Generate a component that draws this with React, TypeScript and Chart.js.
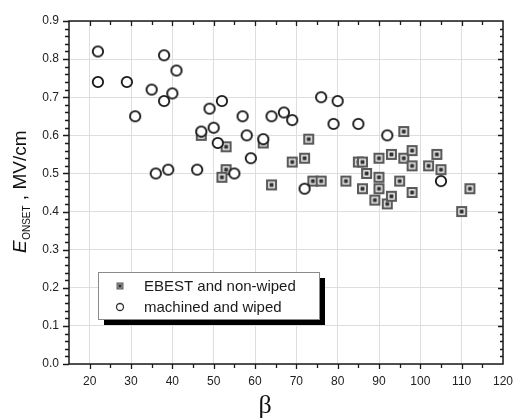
import React, { useEffect, useRef } from "react";
import { Chart, registerables } from "chart.js";

Chart.register(...registerables);

const ebestLabel = "EBEST and non-wiped";
const ebestX = [47, 53, 53, 52, 62, 64, 69, 72, 73, 74, 76, 82, 85, 86, 86, 87, 89, 90, 90, 90, 92, 93, 93, 95, 96, 96, 98, 98, 98, 102, 104, 105, 110, 112];
const ebestY = [0.60, 0.57, 0.51, 0.49, 0.58, 0.47, 0.53, 0.54, 0.59, 0.48, 0.48, 0.48, 0.53, 0.53, 0.46, 0.50, 0.43, 0.54, 0.49, 0.46, 0.42, 0.55, 0.44, 0.48, 0.54, 0.61, 0.56, 0.52, 0.45, 0.52, 0.55, 0.51, 0.40, 0.46];

const machLabel = "machined and wiped";
const machX = [22, 22, 29, 31, 35, 38, 38, 40, 41, 36, 39, 46, 47, 49, 50, 51, 52, 55, 57, 58, 59, 62, 64, 67, 69, 72, 76, 80, 79, 85, 92, 105];
const machY = [0.82, 0.74, 0.74, 0.65, 0.72, 0.81, 0.69, 0.71, 0.77, 0.50, 0.51, 0.51, 0.61, 0.67, 0.62, 0.58, 0.69, 0.50, 0.65, 0.60, 0.54, 0.59, 0.65, 0.66, 0.64, 0.46, 0.70, 0.69, 0.63, 0.63, 0.60, 0.48];

const xTicks = [20, 30, 40, 50, 60, 70, 80, 90, 100, 110, 120];
const yTicks = [0, 0.1, 0.2, 0.3, 0.4, 0.5, 0.6, 0.7, 0.8, 0.9];
const xMinorStep = 5;
const yMinorStep = 0.02;

function makeSquare(size: number, outer: number, inner: number, lw: number): HTMLCanvasElement {
  const c = document.createElement("canvas");
  c.width = size;
  c.height = size;
  const g = c.getContext("2d")!;
  const o = (size - outer) / 2;
  g.fillStyle = "#ffffff";
  g.fillRect(o, o, outer, outer);
  g.strokeStyle = "#5a5a5a";
  g.lineWidth = lw;
  g.strokeRect(o + lw / 2, o + lw / 2, outer - lw, outer - lw);
  const i = (size - inner) / 2;
  g.fillStyle = "#303030";
  g.fillRect(i, i, inner, inner);
  return c;
}

function makeCircle(size: number, r: number, lw: number, color: string): HTMLCanvasElement {
  const c = document.createElement("canvas");
  c.width = size;
  c.height = size;
  const g = c.getContext("2d")!;
  g.beginPath();
  g.arc(size / 2, size / 2, r, 0, Math.PI * 2);
  g.fillStyle = "#ffffff";
  g.fill();
  g.strokeStyle = color;
  g.lineWidth = lw;
  g.stroke();
  return c;
}

const framePlugin = {
  id: "framePlugin",
  afterDraw(chart: any) {
    const ctx = chart.ctx;
    const { left, right, top, bottom } = chart.chartArea;
    const xs = chart.scales.x;
    const ys = chart.scales.y;
    ctx.save();
    ctx.strokeStyle = "#1a1a1a";
    ctx.lineWidth = 1.5;
    ctx.strokeRect(left, top, right - left, bottom - top);
    ctx.lineWidth = 1.3;
    ctx.beginPath();
    for (let v = 20; v <= 115.001; v += xMinorStep) {
      const px = Math.round(xs.getPixelForValue(v)) + 0.5;
      const major = xTicks.includes(Math.round(v));
      const len = major ? 5 : 4;
      ctx.moveTo(px, bottom);
      ctx.lineTo(px, bottom + len);
      ctx.moveTo(px, top);
      ctx.lineTo(px, top + len);
    }
    for (let k = 0; k <= 45; k++) {
      const v = k * yMinorStep;
      const py = Math.round(ys.getPixelForValue(v)) + 0.5;
      const major = k % 5 === 0;
      const lenL = major ? 6 : 4;
      const lenR = major ? 5 : 3;
      ctx.moveTo(left - lenL, py);
      ctx.lineTo(left, py);
      if (k !== 0 && k !== 45) {
        ctx.moveTo(right, py);
        ctx.lineTo(right - lenR, py);
      }
    }
    ctx.stroke();

    ctx.fillStyle = "#111";
    ctx.font = "26px 'Liberation Serif', 'DejaVu Serif', serif";
    ctx.textAlign = "center";
    ctx.textBaseline = "alphabetic";
    ctx.fillText("β", 265, 413);

    ctx.save();
    ctx.translate(26, 192);
    ctx.rotate(-Math.PI / 2);
    ctx.textAlign = "left";
    const fMain = "19px 'Liberation Sans', Arial, sans-serif";
    const fItal = "italic 19px 'Liberation Sans', Arial, sans-serif";
    const fSub = "10px 'Liberation Sans', Arial, sans-serif";
    ctx.font = fItal;
    const wE = ctx.measureText("E").width;
    ctx.font = fSub;
    const wS = ctx.measureText("ONSET").width;
    ctx.font = fMain;
    const rest = " , MV/cm";
    const wR = ctx.measureText(rest).width;
    let x0 = -(wE + wS + wR) / 2;
    ctx.font = fItal;
    ctx.fillText("E", x0, 0);
    x0 += wE + 0.5;
    ctx.font = fSub;
    ctx.fillText("ONSET", x0, 4);
    x0 += wS;
    ctx.font = fMain;
    ctx.fillText(rest, x0, 0);
    ctx.restore();

    const bx = 98, by = 272, bw = 221, bh = 47;
    ctx.fillStyle = "#000";
    ctx.fillRect(bx + 6, by + 6, bw, bh);
    ctx.fillStyle = "#fff";
    ctx.fillRect(bx, by, bw, bh);
    ctx.strokeStyle = "#8a8a8a";
    ctx.lineWidth = 1;
    ctx.strokeRect(bx + 0.5, by + 0.5, bw, bh);
    const ds = chart.data.datasets;
    const items = [ds[1], ds[0]];
    ctx.font = "15px 'Liberation Sans', Arial, sans-serif";
    ctx.textAlign = "left";
    ctx.textBaseline = "middle";
    items.forEach((d: any, i: number) => {
      const cy = 286 + i * 21;
      const sym = d.legendSymbol as HTMLCanvasElement;
      ctx.drawImage(sym, 120 - sym.width / 2, cy - sym.height / 2);
      ctx.fillStyle = "#1a1a1a";
      ctx.fillText(d.label, 144, cy + 1);
    });
    ctx.restore();
  },
};

export default function App() {
  const ref = useRef<HTMLCanvasElement | null>(null);
  useEffect(() => {
    if (!ref.current) return;
    const sq = makeSquare(13, 11, 4, 2.2);
    const ci = makeCircle(14, 5.2, 1.8, "#111");
    const sqLeg = makeSquare(9, 7, 3, 1.5);
    const ciLeg = makeCircle(10, 3.5, 1.3, "#333");
    const chart = new Chart(ref.current, {
      type: "scatter",
      data: {
        datasets: [
          {
            label: machLabel,
            data: machX.map((x, i) => ({ x, y: machY[i] })),
            pointStyle: ci as any,
            order: 0,
            legendSymbol: ciLeg,
          } as any,
          {
            label: ebestLabel,
            data: ebestX.map((x, i) => ({ x, y: ebestY[i] })),
            pointStyle: sq as any,
            order: 1,
            legendSymbol: sqLeg,
          } as any,
        ],
      },
      options: {
        animation: false,
        responsive: false,
        devicePixelRatio: 1,
        events: [],
        layout: { padding: { left: 0, top: 21, right: 11, bottom: 0 } },
        plugins: { legend: { display: false }, tooltip: { enabled: false } },
        scales: {
          x: {
            type: "linear",
            min: 15,
            max: 120,
            afterBuildTicks: (s: any) => {
              s.ticks = xTicks.map((v) => ({ value: v }));
            },
            afterFit: (s: any) => {
              s.height = 55;
              s.paddingLeft = 0;
              s.paddingRight = 0;
            },
            grid: { color: "#dedede", lineWidth: 1, drawTicks: false },
            border: { display: false },
            ticks: {
              padding: 10,
              color: "#222",
              font: { family: "'Liberation Sans', Arial, sans-serif", size: 12 },
              maxRotation: 0,
              autoSkip: false,
            },
          },
          y: {
            type: "linear",
            min: 0,
            max: 0.9,
            afterBuildTicks: (s: any) => {
              s.ticks = yTicks.map((v) => ({ value: v }));
            },
            afterFit: (s: any) => {
              s.width = 69;
              s.paddingTop = 0;
              s.paddingBottom = 0;
            },
            grid: { color: "#dedede", lineWidth: 1, drawTicks: false },
            border: { display: false },
            ticks: {
              padding: 10,
              color: "#222",
              font: { family: "'Liberation Sans', Arial, sans-serif", size: 12 },
              autoSkip: false,
              callback: (v: any) => Number(v).toFixed(1),
            },
          },
        },
      },
      plugins: [framePlugin],
    });
    return () => chart.destroy();
  }, []);
  return (
    <div style={{ position: "fixed", left: 0, top: 0, width: 514, height: 419, background: "#fff" }}>
      <canvas ref={ref} width={514} height={419} />
    </div>
  );
}
